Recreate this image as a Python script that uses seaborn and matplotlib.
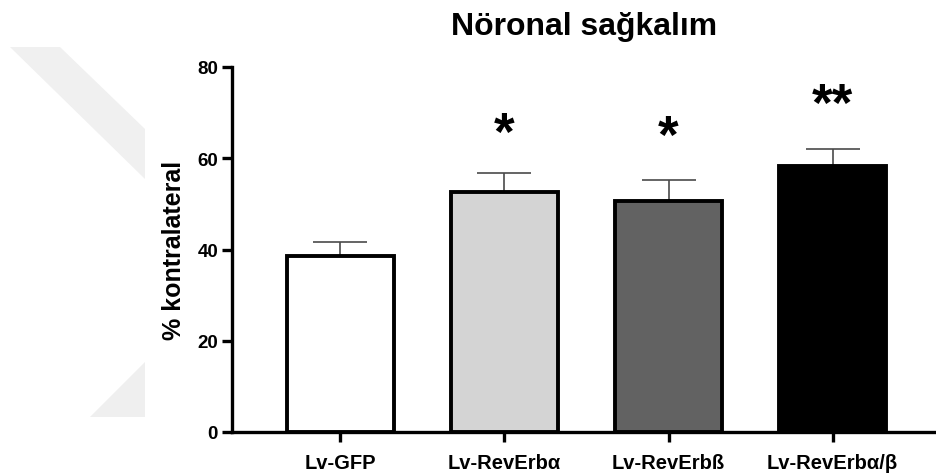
import numpy as np
import matplotlib
matplotlib.use("Agg")
import matplotlib.pyplot as plt
from matplotlib.patches import Polygon
import seaborn as sns

# ---- data ----
categories = ["Lv-GFP", "Lv-RevErbα", "Lv-RevErbß", "Lv-RevErbα/β"]
means = [38.5, 52.7, 50.7, 58.4]
sem_upper = [3.2, 4.0, 4.6, 3.7]
sig_labels = ["", "*", "*", "**"]
sig_y = [0, 65.2, 64.5, 71.5]
bar_colors = ["#ffffff", "#d4d4d4", "#626262", "#000000"]
title = "Nöronal sağkalım"
ylabel = "% kontralateral"
yticks = [0, 20, 40, 60, 80]

sns.set_theme(style="ticks")
plt.rcParams["font.family"] = ["Liberation Sans", "DejaVu Sans"]
plt.rcParams["font.weight"] = "bold"
plt.rcParams["text.color"] = "black"
plt.rcParams["axes.labelcolor"] = "black"

fig = plt.figure(figsize=(9.36, 4.77), dpi=100)
W, H = 936, 477

# faint watermark shapes in background (figure pixel coords)
def fp(pts):
    return [(x / W, 1 - y / H) for x, y in pts]
fig.patches.append(Polygon(fp([(10, 48), (60, 48), (145, 130), (145, 180)]),
                           closed=True, transform=fig.transFigure,
                           facecolor="#f0f0f0", edgecolor="none", zorder=0))
fig.patches.append(Polygon(fp([(90, 418), (145, 418), (145, 363)]),
                           closed=True, transform=fig.transFigure,
                           facecolor="#efefef", edgecolor="none", zorder=0))

ax = fig.add_axes([232 / W, 1 - 433 / H, (936 - 232) / W, 365 / H])
ax.set_facecolor("none")

sns.barplot(x=categories, y=means, hue=categories, palette=bar_colors,
            legend=False, width=0.65, edgecolor="black", linewidth=2.8,
            saturation=1, ax=ax, zorder=3)

xpos = np.arange(len(categories))
ax.errorbar(xpos, means, yerr=[np.zeros(len(means)), sem_upper], fmt="none",
            ecolor="#4a4a4a", elinewidth=1.2, capsize=19.5, capthick=1.2,
            zorder=2)

for xi, lab, yy in zip(xpos, sig_labels, sig_y):
    if lab:
        ax.text(xi, yy, lab, ha="center", va="center", fontsize=38,
                fontweight="bold", color="black")

ax.set_ylim(0, 80)
ax.set_xlim(-0.66, 3.63)
ax.set_yticks(yticks)
ax.set_ylabel(ylabel, fontsize=18, fontweight="bold", labelpad=8, color="black")
ax.set_xlabel("")
ax.set_title(title, fontsize=23, fontweight="bold", pad=24, x=0.5, color="black")

sns.despine(ax=ax)
for s in ["left", "bottom"]:
    ax.spines[s].set_linewidth(2.4)
    ax.spines[s].set_color("black")
ax.tick_params(axis="y", length=7, width=2.4, labelsize=13.5, pad=3, colors="black")
ax.tick_params(axis="x", length=7, width=2.4, labelsize=14.5, pad=8, colors="black")
for t in ax.get_xticklabels() + ax.get_yticklabels():
    t.set_fontweight("bold")

fig.savefig("out.png", dpi=100, facecolor="white")
